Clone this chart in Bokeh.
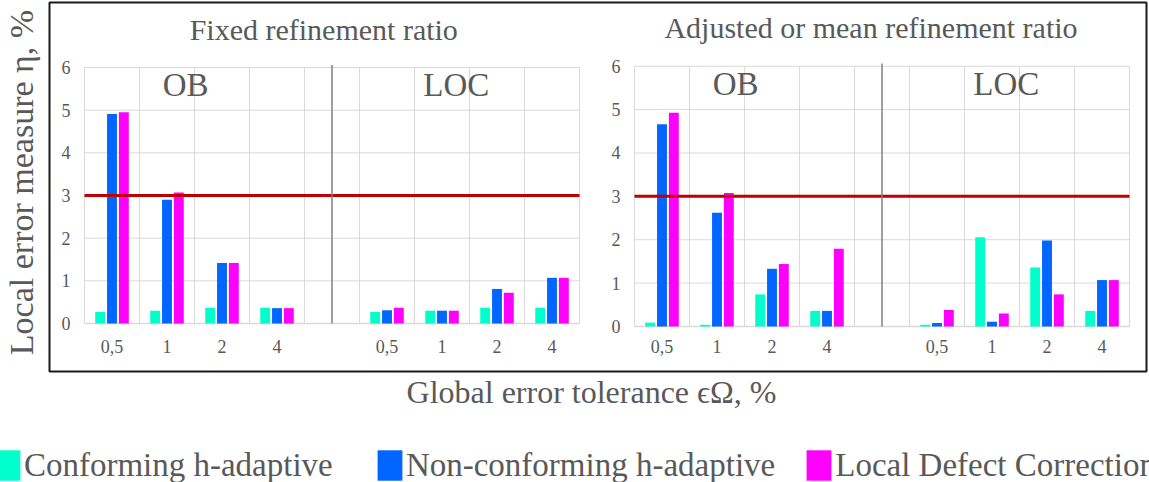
import math
from bokeh.plotting import figure
from bokeh.models import Range1d, LinearAxis, FixedTicker, Legend, LegendItem
from bokeh.core.properties import value
from bokeh.embed import file_html
from bokeh.resources import INLINE

# ---------------- data ----------------
tolerances = ["0,5", "1", "2", "4"]          # global error tolerance, %
groups = ["OB", "LOC"]
panel_titles = ["Fixed refinement ratio", "Adjusted or mean refinement ratio"]
series_names = ["Conforming h-adaptive", "Non-conforming h-adaptive", "Local Defect Correction"]
series_colors = ["#00FFCC", "#0066FF", "#FF00FF"]
y_title = "Local error measure η, %"
x_title = "Global error tolerance ϵΩ, %"
threshold = 3
y_ticks = [0, 1, 2, 3, 4, 5, 6]

# values per panel: OB (0,5 1 2 4) followed by LOC (0,5 1 2 4)
fixed_conforming = [0.27, 0.30, 0.37, 0.37, 0.27, 0.30, 0.37, 0.37]
fixed_nonconforming = [4.91, 2.90, 1.42, 0.36, 0.31, 0.30, 0.81, 1.07]
fixed_ldc = [4.95, 3.07, 1.42, 0.36, 0.37, 0.30, 0.72, 1.07]

adjusted_conforming = [0.09, 0.04, 0.74, 0.36, 0.04, 2.06, 1.36, 0.36]
adjusted_nonconforming = [4.66, 2.62, 1.33, 0.36, 0.08, 0.11, 1.98, 1.07]
adjusted_ldc = [4.93, 3.08, 1.44, 1.79, 0.38, 0.30, 0.74, 1.07]

panels = [
    [fixed_conforming, fixed_nonconforming, fixed_ldc],
    [adjusted_conforming, adjusted_nonconforming, adjusted_ldc],
]

# ---------------- style ----------------
FONT = "Liberation Serif"
GREY = "#595959"
GRID = "#D9D9D9"

slot_local = [0, 1, 2, 3, 5, 6, 7, 8]          # OB slots, gap, LOC slots
panel_offset = [0, 10]
range_names = ["default", "r"]
bar_offsets = [-0.215, 0.0, 0.215]
title_x = [3.85, 3.80]

# the frame covers the whole canvas (55 px per slot)
X0, X1 = -2.0273, 18.8636
p = figure(width=1149, height=482,
           x_range=Range1d(X0, X1), y_range=Range1d(-3.7266, 7.5703),
           x_axis_type=None, y_axis_type=None,
           output_backend="svg", toolbar_location=None,
           min_border_left=0, min_border_right=0, min_border_top=0, min_border_bottom=0)
p.title.visible = False
p.extra_y_ranges = {"r": Range1d(-3.5961, 7.5150)}
p.outline_line_color = None
p.background_fill_color = "white"
p.border_fill_color = "white"

# outer box around both panels
p.quad(left=[-1.1364], right=[18.8091], bottom=[-1.125], top=[7.5234],
       fill_color=None, line_color="#1a1a1a", line_width=2)

first_bars = []
for pi in range(2):
    off = panel_offset[pi]
    rn = range_names[pi]
    left, right = off - 0.5, off + 8.5
    # horizontal grid
    hy = y_ticks[1:]
    p.segment(x0=[left] * len(hy), y0=hy, x1=[right] * len(hy), y1=hy,
              line_color=GRID, line_width=1, y_range_name=rn)
    # vertical grid
    vx = [left + k for k in range(10)]
    p.segment(x0=vx, y0=[0] * len(vx), x1=vx, y1=[6] * len(vx),
              line_color=GRID, line_width=1, y_range_name=rn)
    # baseline
    p.segment(x0=[left], y0=[0], x1=[right], y1=[0], line_color=GRID,
              line_width=1.5, y_range_name=rn)
    # bars
    for si in range(3):
        xs = [off + s + bar_offsets[si] for s in slot_local]
        r = p.vbar(x=xs, top=panels[pi][si], bottom=0, width=0.18,
                   fill_color=series_colors[si], line_color=None, y_range_name=rn)
        if pi == 0:
            first_bars.append(r)
    # threshold line
    p.segment(x0=[left], y0=[threshold], x1=[right], y1=[threshold],
              line_color="#C00000", line_width=3, y_range_name=rn)
    # separator OB | LOC
    p.segment(x0=[off + 4], y0=[0], x1=[off + 4], y1=[6.06],
              line_color="#7F7F7F", line_width=1.5, y_range_name=rn)
    # group labels
    p.text(x=[off + 1.34, off + 6.26], y=[5.58, 5.58], text=groups,
           text_font=value(FONT), text_font_size="33px", text_color=GREY,
           text_align="center", text_baseline="middle", y_range_name=rn)
    # panel title
    p.text(x=[off + title_x[pi]], y=[6.89], text=[panel_titles[pi]],
           text_font=value(FONT), text_font_size="30px", text_color=GREY,
           text_align="center", text_baseline="middle", y_range_name=rn)

    # y axis of panel
    yax = LinearAxis(y_range_name=rn, ticker=FixedTicker(ticks=y_ticks),
                     fixed_location=left)
    yax.axis_line_color = None
    yax.major_tick_line_color = None
    yax.minor_tick_line_color = None
    yax.major_tick_out = 0
    yax.minor_tick_out = 0
    yax.major_label_standoff = 14
    yax.major_label_text_font = FONT
    yax.major_label_text_font_size = "18px"
    yax.major_label_text_color = GREY
    p.add_layout(yax, "left")

# x axis with tolerance labels
tick_pos = []
overrides = {}
for off in panel_offset:
    for s, lab in zip(slot_local, tolerances * 2):
        tick_pos.append(off + s)
        overrides[off + s] = lab
xax = LinearAxis(ticker=FixedTicker(ticks=tick_pos), fixed_location=0)
xax.major_label_overrides = overrides
xax.axis_line_color = None
xax.major_tick_line_color = None
xax.minor_tick_line_color = None
xax.major_tick_out = 0
xax.minor_tick_out = 0
xax.major_label_standoff = 17
xax.major_label_text_font = FONT
xax.major_label_text_font_size = "18px"
xax.major_label_text_color = GREY
p.add_layout(xax, "below")

# axis titles as text
p.text(x=[-1.645], y=[3.305], text=[y_title], angle=math.pi / 2,
       text_font=value(FONT), text_font_size="34px", text_color=GREY,
       text_align="center", text_baseline="middle")
p.text(x=[8.718], y=[-1.617], text=[x_title],
       text_font=value(FONT), text_font_size="32px", text_color=GREY,
       text_align="center", text_baseline="middle")

# legend (one row at the bottom)
legend = Legend(items=[LegendItem(label=series_names[si], renderers=[first_bars[si]])
                       for si in range(3)],
                orientation="horizontal", location=(-8.1, -2))
legend.padding = 0
legend.margin = 0
legend.spacing = 28
legend.label_width = 322
legend.glyph_width = 31
legend.glyph_height = 38
legend.label_standoff = 1
legend.label_text_font = FONT
legend.label_text_font_size = "33px"
legend.label_text_color = GREY
legend.border_line_color = None
legend.background_fill_alpha = 0
p.add_layout(legend)

open("out.html", "w").write(file_html(p, INLINE))
